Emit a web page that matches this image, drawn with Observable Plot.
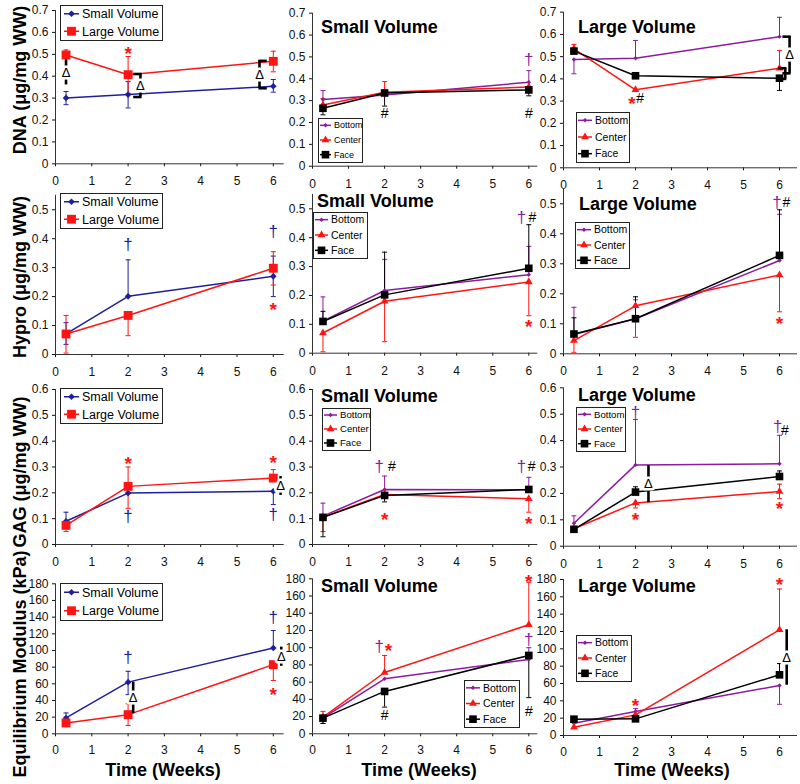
<!DOCTYPE html>
<html><head><meta charset="utf-8">
<script src="https://cdn.jsdelivr.net/npm/d3@7"></script>
<script src="https://cdn.jsdelivr.net/npm/@observablehq/plot@0.6"></script>
<style>
body{margin:0;background:#fff;}
#root{position:relative;width:800px;height:784px;overflow:hidden;font-family:"Liberation Sans",Arial,sans-serif;}
#root svg{position:absolute;}
</style></head><body><div id="root"></div>
<script>
// ---------- DATA ----------
const weeks = [0.29, 2, 6];
const xTicks = [0, 1, 2, 3, 4, 5, 6];
const dnaTicks = [0, 0.1, 0.2, 0.3, 0.4, 0.5, 0.6, 0.7];
const hyproTicks = [0, 0.1, 0.2, 0.3, 0.4, 0.5];
const gagTicks = [0, 0.1, 0.2, 0.3, 0.4, 0.5, 0.6];
const modTicks = [0, 20, 40, 60, 80, 100, 120, 140, 160, 180];
const groupNames = ["Small Volume", "Large Volume"];
const regionNames = ["Bottom", "Center", "Face"];
const titles = ["Small Volume", "Large Volume"];
const yLabels = ["DNA (μg/mg WW)", "Hypro (μg/mg WW)", "GAG (μg/mg WW)", "Equilibrium Modulus (kPa)"];
const xLabel = "Time (Weeks)";

// each time point: [mean, lower end of error bar, upper end of error bar]
const dnaSmallVol    = [[0.301,0.270,0.330],[0.316,0.255,0.375],[0.354,0.327,0.385]];
const dnaLargeVol    = [[0.497,0.497,0.520],[0.407,0.320,0.490],[0.468,0.420,0.514]];
const dnaSmallBottom = [[0.305,0.305,0.346],[0.326,0.326,0.326],[0.384,0.384,0.437]];
const dnaSmallCenter = [[0.280,0.280,0.310],[0.338,0.338,0.387],[0.362,0.362,0.362]];
const dnaSmallFace   = [[0.265,0.235,0.265],[0.335,0.275,0.335],[0.349,0.322,0.349]];
const dnaLargeBottom = [[0.487,0.423,0.487],[0.493,0.493,0.573],[0.590,0.590,0.677]];
const dnaLargeCenter = [[0.535,0.535,0.555],[0.351,0.351,0.351],[0.448,0.448,0.528]];
const dnaLargeFace   = [[0.525,0.525,0.525],[0.414,0.414,0.414],[0.403,0.348,0.403]];

const hypSmallVol    = [[0.071,0.035,0.110],[0.201,0.201,0.327],[0.270,0.200,0.340]];
const hypLargeVol    = [[0.071,0.005,0.135],[0.135,0.065,0.135],[0.298,0.240,0.355]];
const hypSmallBottom = [[0.111,0.111,0.195],[0.217,0.217,0.325],[0.272,0.272,0.370]];
const hypSmallCenter = [[0.070,0.005,0.070],[0.180,0.040,0.180],[0.247,0.130,0.247]];
const hypSmallFace   = [[0.110,0.110,0.145],[0.202,0.202,0.350],[0.294,0.294,0.445]];
const hypLargeBottom = [[0.064,0.064,0.155],[0.117,0.117,0.180],[0.311,0.311,0.465]];
const hypLargeCenter = [[0.044,0.005,0.044],[0.160,0.055,0.160],[0.263,0.140,0.263]];
const hypLargeFace   = [[0.066,0.066,0.120],[0.117,0.117,0.190],[0.328,0.328,0.480]];

const gagSmallVol    = [[0.090,0.090,0.125],[0.199,0.199,0.199],[0.206,0.155,0.206]];
const gagLargeVol    = [[0.074,0.050,0.074],[0.225,0.140,0.300],[0.257,0.257,0.290]];
const gagSmallBottom = [[0.110,0.110,0.160],[0.213,0.213,0.265],[0.212,0.212,0.260]];
const gagSmallCenter = [[0.106,0.050,0.106],[0.194,0.194,0.194],[0.177,0.125,0.177]];
const gagSmallFace   = [[0.105,0.030,0.105],[0.190,0.165,0.190],[0.213,0.213,0.213]];
const gagLargeBottom = [[0.087,0.087,0.115],[0.308,0.308,0.480],[0.312,0.312,0.420]];
const gagLargeCenter = [[0.066,0.066,0.066],[0.164,0.145,0.164],[0.207,0.180,0.235]];
const gagLargeFace   = [[0.064,0.064,0.064],[0.205,0.205,0.225],[0.264,0.264,0.285]];

const modSmallVol    = [[19,13,25],[62,47,75],[103,103,124]];
const modLargeVol    = [[13,9,13],[23,10,36],[83,64,83]];
const modSmallBottom = [[18.6,12,18.6],[63.9,63.9,63.9],[86.3,86.3,100]];
const modSmallCenter = [[19.4,19.4,26],[71.2,71.2,91],[126.6,126.6,176]];
const modSmallFace   = [[18.2,12,18.2],[49.2,31,49.2],[91,42,91]];
const modLargeBottom = [[14.2,14.2,14.2],[27.7,24,31],[57.7,36,57.7]];
const modLargeCenter = [[9.6,9.6,9.6],[23.8,23.8,23.8],[121.9,121.9,169]];
const modLargeFace   = [[18.8,15,22],[19.2,19.2,19.2],[70,70,83]];

// significance marks: [week, value, glyph, series it belongs to]
const dnaGroupNotes = [[2,0.525,"*","Large Volume"]];
const dnaSmallNotes = [[2,0.24,"#","Face"],[6,0.24,"#","Face"],[6,0.49,"†","Bottom"]];
const dnaLargeNotes = [[1.9,0.31,"*","Center"],[2.13,0.31,"#","Face"]];
const hypGroupNotes = [[2,0.38,"†","Small Volume"],[6,0.425,"†","Small Volume"],[6,0.17,"*","Large Volume"]];
const hypSmallNotes = [[5.8,0.47,"†","Bottom"],[6.1,0.47,"#","Face"],[6,0.11,"*","Center"]];
const hypLargeNotes = [[5.93,0.505,"†","Bottom"],[6.19,0.505,"#","Face"],[6,0.115,"*","Center"]];
const gagGroupNotes = [[2,0.33,"*","Large Volume"],[2,0.11,"†","Small Volume"],[6,0.335,"*","Large Volume"],[6,0.115,"†","Small Volume"]];
const gagSmallNotes = [[1.85,0.3,"†","Bottom"],[2.2,0.3,"#","Face"],[2,0.115,"*","Center"],[5.8,0.3,"†","Bottom"],[6.08,0.3,"#","Face"],[6,0.1,"*","Center"]];
const gagLargeNotes = [[2,0.505,"†","Bottom"],[2,0.12,"*","Center"],[5.95,0.455,"†","Bottom"],[6.15,0.44,"#","Face"],[6,0.16,"*","Center"]];
const modGroupNotes = [[2,92,"†","Small Volume"],[6,139,"†","Small Volume"],[6,53,"*","Large Volume"]];
const modSmallNotes = [[1.85,101,"†","Bottom"],[2.11,102,"*","Center"],[2,21,"#","Face"],[6,182,"*","Center"],[6,109,"†","Bottom"],[6,26,"#","Face"]];
const modLargeNotes = [[2,40,"*","Center"],[6,179,"*","Center"]];

// Δ brackets: [week, low value, high value, cap direction, show Δ]
const dnaGroupBrackets = [[0.29,0.36,0.475,0,1],[2.34,0.305,0.41,-1,1],[5.62,0.345,0.47,1,1]];
const dnaLargeBrackets = [[6.16,0.40,0.448,-1,0],[6.28,0.425,0.59,-1,1]];
const gagGroupBrackets = [[6.2,0.19,0.263,0,1]];
const gagLargeBrackets = [[2.36,0.165,0.305,0,1]];
const modGroupBrackets = [[2.14,24,62,0,1],[6.22,81,104,0,1]];
const modLargeBrackets = [[6.2,58,122,0,1]];

// ---------- LAYOUT / STYLE ----------
const FONT = '"Liberation Sans", Arial, sans-serif';
const seriesStyle = {
  "Small Volume": {color: "#1f1f9c", symbol: "diamond2", r: 3.0},
  "Large Volume": {color: "#ff1414", symbol: "square", r: 5.0},
  "Bottom": {color: "#8c1c9e", symbol: "diamond2", r: 2.0},
  "Center": {color: "#ff1414", symbol: "triangle", r: 2.9},
  "Face": {color: "#000000", symbol: "square", r: 4.3}
};
const glyphStyle = {
  "*": {size: 19, weight: "bold", dy: 5},
  "†": {size: 17, weight: "normal", dy: 0},
  "#": {size: 14, weight: "normal", dy: 0}
};
const cols = [
  {x0: 55, unit: 36.3, xMax: 6.3, left: 0, width: 292},
  {x0: 312, unit: 36.05, xMax: 6.25, left: 270, width: 270},
  {x0: 563, unit: 36, xMax: 6.5, left: 533, width: 267}
];
const rowTops = [0, 185, 377, 570];
const rowHeights = [195, 200, 195, 214];
const rowTickPad = [10, 10, 10, 8.5];

const panels = [
  {row:0,col:0,yMax:0.7,ticks:dnaTicks,y0:163.3,yTop:10,series:[[groupNames[0],dnaSmallVol],[groupNames[1],dnaLargeVol]],notes:dnaGroupNotes,brackets:dnaGroupBrackets},
  {row:0,col:1,yMax:0.7,ticks:dnaTicks,y0:165.7,yTop:12.7,series:[[regionNames[0],dnaSmallBottom],[regionNames[1],dnaSmallCenter],[regionNames[2],dnaSmallFace]],notes:dnaSmallNotes,brackets:[]},
  {row:0,col:2,yMax:0.7,ticks:dnaTicks,y0:167.3,yTop:11.7,series:[[regionNames[0],dnaLargeBottom],[regionNames[1],dnaLargeCenter],[regionNames[2],dnaLargeFace]],notes:dnaLargeNotes,brackets:dnaLargeBrackets},
  {row:1,col:0,yMax:0.55,ticks:hyproTicks,y0:354,yTop:194.8,series:[[groupNames[0],hypSmallVol],[groupNames[1],hypLargeVol]],notes:hypGroupNotes,brackets:[]},
  {row:1,col:1,yMax:0.55,ticks:hyproTicks,y0:352.7,yTop:193.9,series:[[regionNames[0],hypSmallBottom],[regionNames[1],hypSmallCenter],[regionNames[2],hypSmallFace]],notes:hypSmallNotes,brackets:[]},
  {row:1,col:2,yMax:0.55,ticks:hyproTicks,y0:353.3,yTop:188.3,series:[[regionNames[0],hypLargeBottom],[regionNames[1],hypLargeCenter],[regionNames[2],hypLargeFace]],notes:hypLargeNotes,brackets:[]},
  {row:2,col:0,yMax:0.6,ticks:gagTicks,y0:544,yTop:389,series:[[groupNames[0],gagSmallVol],[groupNames[1],gagLargeVol]],notes:gagGroupNotes,brackets:gagGroupBrackets},
  {row:2,col:1,yMax:0.6,ticks:gagTicks,y0:544,yTop:389,series:[[regionNames[0],gagSmallBottom],[regionNames[1],gagSmallCenter],[regionNames[2],gagSmallFace]],notes:gagSmallNotes,brackets:[]},
  {row:2,col:2,yMax:0.6,ticks:gagTicks,y0:545.7,yTop:387.3,series:[[regionNames[0],gagLargeBottom],[regionNames[1],gagLargeCenter],[regionNames[2],gagLargeFace]],notes:gagLargeNotes,brackets:gagLargeBrackets},
  {row:3,col:0,yMax:180,ticks:modTicks,y0:733.3,yTop:583.3,series:[[groupNames[0],modSmallVol],[groupNames[1],modLargeVol]],notes:modGroupNotes,brackets:modGroupBrackets},
  {row:3,col:1,yMax:180,ticks:modTicks,y0:733.3,yTop:578.3,series:[[regionNames[0],modSmallBottom],[regionNames[1],modSmallCenter],[regionNames[2],modSmallFace]],notes:modSmallNotes,brackets:[]},
  {row:3,col:2,yMax:180,ticks:modTicks,y0:735,yTop:579,series:[[regionNames[0],modLargeBottom],[regionNames[1],modLargeCenter],[regionNames[2],modLargeFace]],notes:modLargeNotes,brackets:modLargeBrackets}
];

// legend boxes per panel: [left, top, width, height, fontSize, symbol line length]
const legendBoxes = [
  [60,5,102,35,12.5,15],[318,118,44,44,9,11],[576,112,53,50,10.5,14],
  [60,193,102,35,12.5,15],[313,212,54,46,10.5,13],[575,222,54,46,10.5,14],
  [60,388,102,35,12.5,15],[322,408,48,42,9.6,13],[576,407,49,44,9.6,13],
  [60,583,102,37,12.5,15],[464,680,55,47,10.5,14],[576,635,55,46,10.5,14]
];
const titlePos = [[1,321,33],[2,578,33],[4,317,206.5],[5,579,210],[7,321,401.5],[8,578,400.5],[10,321,591.5],[11,578,591.5]];
const yLabelPos = [80, 277, 472, 664];
const xLabelPos = [163, 419, 672];

const capSymbol = {draw(ctx, size) { const w = Math.sqrt(size / Math.PI); ctx.moveTo(-w, 0); ctx.lineTo(w, 0); }};
const axisColor = "#333";
const numFmt = d => String(+d.toFixed(6));

function panelPlot(p) {
  const cg = cols[p.col];
  const top = rowTops[p.row], h = rowHeights[p.row];
  const ml = cg.x0 - cg.left;
  const mr = cg.left + cg.width - (cg.x0 + cg.xMax * cg.unit);
  const mt = p.yTop - top;
  const mb = top + h - p.y0;
  const marks = [Plot.ruleY([0], {stroke: axisColor}), Plot.ruleX([0], {stroke: axisColor})];
  const sers = p.series.map(([name, vals]) => ({
    name, st: seriesStyle[name],
    data: weeks.map((x, i) => ({x, y: vals[i][0], lo: vals[i][1], hi: vals[i][2]}))
  }));
  for (const s of sers) {
    marks.push(Plot.ruleX(s.data.filter(d => d.hi > d.lo), {x: "x", y1: "lo", y2: "hi", stroke: s.st.color, strokeWidth: 1}));
    marks.push(Plot.dot(s.data.filter(d => d.hi > d.y), {x: "x", y: "hi", symbol: capSymbol, r: 2.5, stroke: s.st.color, fill: "none", strokeWidth: 1}));
    marks.push(Plot.dot(s.data.filter(d => d.lo < d.y), {x: "x", y: "lo", symbol: capSymbol, r: 2.5, stroke: s.st.color, fill: "none", strokeWidth: 1}));
  }
  for (const s of sers) marks.push(Plot.line(s.data, {x: "x", y: "y", stroke: s.st.color, strokeWidth: 1.5}));
  for (const s of sers) marks.push(Plot.dot(s.data, {x: "x", y: "y", symbol: s.st.symbol, r: s.st.r, fill: s.st.color, stroke: "none"}));
  for (const [bx, ylo, yhi, dir, delta] of p.brackets) {
    marks.push(Plot.ruleX([bx], {y1: ylo, y2: yhi, stroke: "black", strokeWidth: 2.6}));
    if (dir) marks.push(Plot.link([ylo, yhi], {x1: bx - dir * 0.03, x2: bx + dir * 0.2, y1: d => d, y2: d => d, stroke: "black", strokeWidth: 2.6}));
    if (delta) marks.push(Plot.text(["Δ"], {x: bx, y: (ylo + yhi) / 2, text: d => d, fill: "black", stroke: "white", strokeWidth: 5, paintOrder: "stroke", fontSize: 13}));
  }
  for (const [nx, ny, glyph, owner] of p.notes) {
    const g = glyphStyle[glyph];
    marks.push(Plot.text([glyph], {x: nx, y: ny, text: d => d, fill: seriesStyle[owner].color, fontSize: g.size, fontWeight: g.weight, dy: g.dy}));
  }
  const svg = Plot.plot({
    width: cg.width, height: h,
    marginLeft: ml, marginRight: mr, marginTop: mt, marginBottom: mb,
    x: {domain: [0, cg.xMax], ticks: xTicks, tickSize: 3, tickPadding: rowTickPad[p.row], tickFormat: numFmt, label: null},
    y: {domain: [0, p.yMax], ticks: p.ticks, tickSize: 3, tickPadding: 4, tickFormat: numFmt, label: null},
    style: {fontFamily: FONT, fontSize: "12px", color: "#111", background: "transparent", overflow: "visible"},
    marks
  });
  svg.style.left = cg.left + "px";
  svg.style.top = top + "px";
  svg.style.maxWidth = "none";
  return svg;
}

const root = document.getElementById("root");
panels.forEach(p => root.appendChild(panelPlot(p)));

// ---------- overlay: titles, axis labels, legends ----------
const ov = d3.select(root).append("svg").attr("width", 800).attr("height", 784)
  .style("left", "0px").style("top", "0px").style("pointer-events", "none")
  .style("font-family", FONT);

titlePos.forEach(([pi, x, y]) => {
  ov.append("text").attr("x", x).attr("y", y).attr("font-size", 18).attr("font-weight", "bold")
    .text(titles[panels[pi].col - 1]);
});
yLabels.forEach((t, i) => {
  ov.append("text").attr("transform", `translate(20,${yLabelPos[i]}) rotate(-90)`)
    .attr("text-anchor", "middle").attr("dy", "0.35em").attr("font-size", 18).attr("font-weight", "bold").text(t);
});
xLabelPos.forEach(x => {
  ov.append("text").attr("x", x).attr("y", 776).attr("text-anchor", "middle")
    .attr("font-size", 18).attr("font-weight", "bold").text(xLabel);
});

const symbolTypes = {diamond2: d3.symbolDiamond2, square: d3.symbolSquare, triangle: d3.symbolTriangle};
legendBoxes.forEach(([l, t, w, h, fs, symLen], pi) => {
  const p = panels[pi];
  const pad = p.col === 0 ? 4 : 2;
  const g = ov.append("g");
  g.append("rect").attr("x", l + 0.5).attr("y", t + 0.5).attr("width", w).attr("height", h)
    .attr("fill", "white").attr("stroke", "#222").attr("stroke-width", 1);
  const n = p.series.length;
  p.series.forEach(([name], i) => {
    const st = seriesStyle[name];
    const cy = t + h * (i + 0.5) / n;
    const x1 = l + pad, x2 = l + pad + symLen;
    g.append("line").attr("x1", x1).attr("x2", x2).attr("y1", cy).attr("y2", cy)
      .attr("stroke", st.color).attr("stroke-width", 1.5);
    g.append("path").attr("transform", `translate(${(x1 + x2) / 2},${cy})`)
      .attr("d", d3.symbol(symbolTypes[st.symbol], Math.PI * st.r * st.r)()).attr("fill", st.color);
    g.append("text").attr("x", x2 + 3).attr("y", cy).attr("dy", "0.35em").attr("font-size", fs).text(name);
  });
});
</script></body></html>
